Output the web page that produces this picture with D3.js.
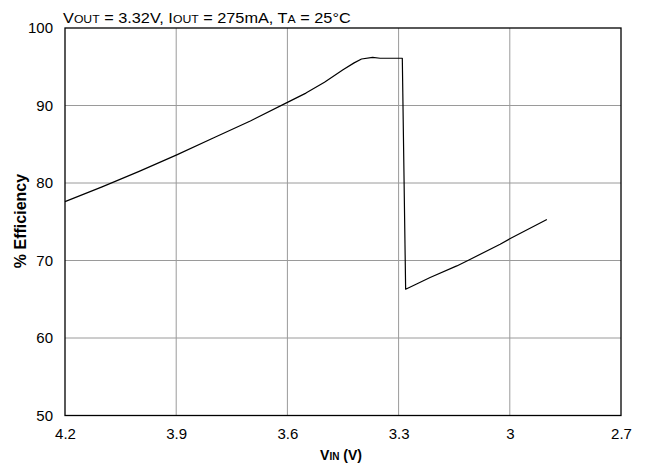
<!DOCTYPE html>
<html><head><meta charset="utf-8">
<script src="https://cdn.jsdelivr.net/npm/d3@7"></script>
<style>body{margin:0;background:#fff}svg{display:block}</style>
</head><body>
<svg id="c" width="645" height="464"></svg>
<script>
const vin = [4.20,4.10,4.00,3.90,3.80,3.70,3.60,3.55,3.50,3.45,3.42,3.40,3.37,3.35,3.29,3.281,3.25,3.215,3.143,3.113,3.026,3.00,2.90];
const eff = [77.6,79.5,81.5,83.6,85.8,88.0,90.4,91.6,93.0,94.6,95.5,96.0,96.2,96.1,96.1,66.3,67.0,67.8,69.3,70.0,72.1,72.8,75.3];
const xTicks = [4.2,3.9,3.6,3.3,3.0,2.7];
const yTicks = [50,60,70,80,90,100];

const svg = d3.select("#c");
const L=65,R=621,T=28,B=415.5;
const x = d3.scaleLinear().domain([4.2,2.7]).range([L,R]);
const y = d3.scaleLinear().domain([50,100]).range([B,T]);
const font = "Liberation Sans, Arial, sans-serif";

// grid
svg.append("g").selectAll("line").data(xTicks.slice(1,-1)).join("line")
  .attr("x1",d=>x(d)).attr("x2",d=>x(d)).attr("y1",T).attr("y2",B)
  .attr("stroke","#9a9a9a").attr("stroke-width",1);
svg.append("g").selectAll("line").data(yTicks.slice(1,-1)).join("line")
  .attr("x1",L).attr("x2",R).attr("y1",d=>y(d)).attr("y2",d=>y(d))
  .attr("stroke","#9a9a9a").attr("stroke-width",1);

// axes
const xa = svg.append("g").attr("transform",`translate(0,${B})`)
  .call(d3.axisBottom(x).tickValues(xTicks).tickSize(0).tickPadding(13).tickFormat(d3.format("")));
const ya = svg.append("g").attr("transform",`translate(${L},0)`)
  .call(d3.axisLeft(y).tickValues(yTicks).tickSize(0).tickPadding(12));
[xa,ya].forEach(a=>{a.select(".domain").remove();a.selectAll("text").attr("font-family",font).attr("font-size",15).attr("fill","#000");});

// frame
svg.append("rect").attr("x",L).attr("y",T).attr("width",R-L).attr("height",B-T)
  .attr("fill","none").attr("stroke","#000").attr("stroke-width",1.3);

// curve
svg.append("path").datum(vin.map((v,i)=>[v,eff[i]]))
  .attr("d",d3.line().x(d=>x(d[0])).y(d=>y(d[1])))
  .attr("fill","none").attr("stroke","#000").attr("stroke-width",1.2).attr("stroke-linejoin","round");

// title
const tg = svg.append("g").attr("transform","translate(63,22.5)");
const t = tg.append("text").attr("x",0).attr("y",0).attr("font-family",font).attr("font-size",14).attr("fill","#000");
t.append("tspan").text("V");
t.append("tspan").attr("font-size",10.5).text("OUT");
t.append("tspan").text(" = 3.32V, I");
t.append("tspan").attr("font-size",10.5).text("OUT");
t.append("tspan").text(" = 275mA, T");
t.append("tspan").attr("font-size",10.5).text("A");
t.append("tspan").text(" = 25°C");
const tw = t.node().getBBox().width;
t.attr("transform",`scale(${288/tw},1)`);

// x title
const xt = svg.append("text").attr("x",341).attr("y",460).attr("text-anchor","middle")
  .attr("font-family",font).attr("font-size",14).attr("font-weight","bold").attr("fill","#000");
xt.append("tspan").text("V");
xt.append("tspan").attr("font-size",10).text("IN");
xt.append("tspan").text(" (V)");

// y title
svg.append("text").attr("transform","translate(25.5,221) rotate(-90)").attr("text-anchor","middle")
  .attr("font-family",font).attr("font-size",16).attr("font-weight","bold").attr("fill","#000")
  .text("% Efficiency");
</script>
</body></html>
